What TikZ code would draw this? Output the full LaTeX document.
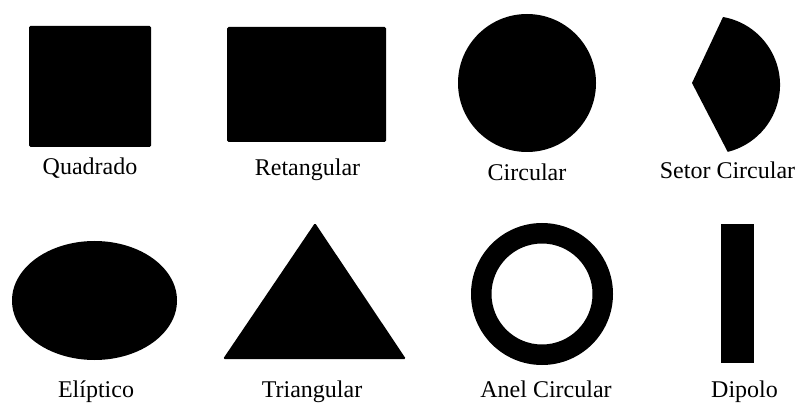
\documentclass[tikz,border=0pt]{standalone}
\usepackage{fontspec}
\setmainfont{Liberation Serif}
\usepackage{tikz}

\begin{document}
\begin{tikzpicture}[
  x=1pt, y=-1pt,
  figfill/.style={fill=black, rounded corners=1.5pt},
  nome/.style={anchor=base, inner sep=0pt, font=\fontsize{24}{28}\selectfont}
]
\useasboundingbox (0,0) rectangle (797,403);
% top row
\fill[figfill] (29,26) rectangle (151,147);
\fill[figfill] (227,27) rectangle (386,142);
\fill (527,83) circle[radius=69];
\fill (692,83) -- (723,17) arc[start angle=-80, end angle=76, radius=69] -- cycle;
% bottom row
\fill (94.5,300.5) ellipse[x radius=82.5, y radius=59.5];
\fill[figfill] (315,223) -- (406,359) -- (223,359) -- cycle;
\fill[even odd rule] (542,294) circle[radius=71] circle[radius=50.5];
\fill (721,224) rectangle (754,363);
% names
\node[nome] (quad) at (90,175) {Quadrado};
\node[nome] (ret) at (307.5,176) {Retangular};
\node[nome] (circ) at (527,181) {Circular};
\node[nome] (setor) at (727.5,179) {Setor Circular};
\node[nome] (elip) at (96,397) {Elíptico};
\node[nome] (tri) at (312,397) {Triangular};
\node[nome] (anel) at (546,397) {Anel Circular};
\node[nome] (dip) at (744.5,397) {Dipolo};
\end{tikzpicture}
\end{document}
